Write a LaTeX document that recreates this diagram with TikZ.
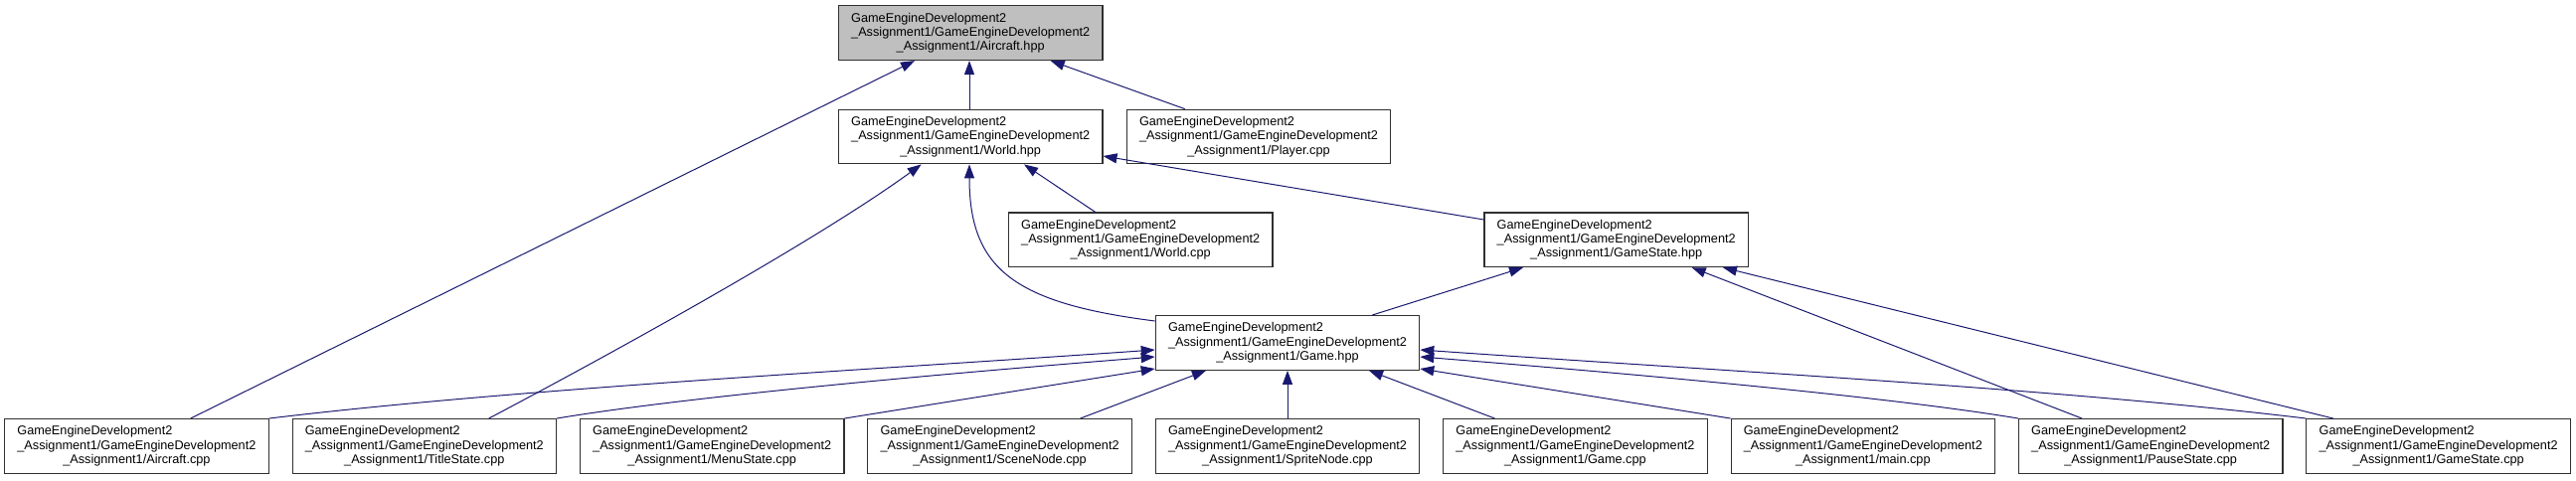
\documentclass[tikz,border=0pt]{standalone}
\usepackage{fontspec}
\setmainfont{Liberation Sans}
\usetikzlibrary{arrows.meta,calc}
\definecolor{edgeblue}{HTML}{191970}
\definecolor{mainfill}{HTML}{BFBFBF}
\definecolor{boxline}{HTML}{303030}
\newcommand{\dxlab}[1]{\makebox[240pt][l]{GameEngineDevelopment2}\\\makebox[240pt][l]{\_Assignment1/GameEngineDevelopment2}\\\_Assignment1/#1}
\begin{document}
\begin{tikzpicture}[x=1pt,y=-1pt,
  filebox/.style={draw=boxline, line width=1.1pt, fill=white, rectangle,
    minimum width=265.5pt, minimum height=54.7pt, inner sep=0pt, align=center,
    font=\fontsize{12.7pt}{14.3pt}\selectfont},
  mainbox/.style={filebox, fill=mainfill},
  dep/.style={draw=edgeblue, line width=1pt, {Triangle[length=14pt,width=10pt]}-}]
\useasboundingbox[fill=white] (0,0) rectangle (2591,483);

% nodes
\node[mainbox] (AHPP) at (976.2,33.2) {\dxlab{Aircraft.hpp}};
\node[filebox] (WHPP) at (976.2,137.5) {\dxlab{World.hpp}};
\node[filebox] (PCPP) at (1266,137.5) {\dxlab{Player.cpp}};
\node[filebox] (WCPP) at (1147.2,241.3) {\dxlab{World.cpp}};
\node[filebox] (GSHPP) at (1625.7,241.3) {\dxlab{GameState.hpp}};
\node[filebox] (GHPP) at (1295,345) {\dxlab{Game.hpp}};

\node[filebox] (ACPP) at (137.4,448.9) {\dxlab{Aircraft.cpp}};
\node[filebox] (TSCPP) at (426.8,448.9) {\dxlab{TitleState.cpp}};
\node[filebox] (MSCPP) at (716.2,448.9) {\dxlab{MenuState.cpp}};
\node[filebox] (SNCPP) at (1005.6,448.9) {\dxlab{SceneNode.cpp}};
\node[filebox] (SPCPP) at (1295,448.9) {\dxlab{SpriteNode.cpp}};
\node[filebox] (GCPP) at (1584.4,448.9) {\dxlab{Game.cpp}};
\node[filebox] (MCPP) at (1873.8,448.9) {\dxlab{main.cpp}};
\node[filebox] (PSCPP) at (2163.2,448.9) {\dxlab{PauseState.cpp}};
\node[filebox] (GSCPP) at (2452.6,448.9) {\dxlab{GameState.cpp}};

% dependencies of Aircraft.hpp
\draw[dep] ([xshift=-56.2pt]AHPP.south) -- ([xshift=54.3pt]ACPP.north);
\draw[dep] ([xshift=-1.2pt]AHPP.south) -- ([xshift=-1.2pt]WHPP.north);
\draw[dep] ([xshift=80.5pt]AHPP.south) -- ([xshift=-74.3pt]PCPP.north);

% dependencies of World.hpp
\draw[dep] ([xshift=53.8pt]WHPP.south) -- ([xshift=-45.5pt]WCPP.north);
\draw[dep] ([xshift=-49.5pt]WHPP.south) .. controls +(-110,80) and +(110,-58) .. ([xshift=64.9pt]TSCPP.north);
\draw[dep] ([xshift=-1.2pt]WHPP.south) .. controls +(0,105) and +(-142,-18) .. ([yshift=22pt]GHPP.west);
\draw[dep] ([yshift=-19.5pt]WHPP.east) -- ([yshift=20.3pt]GSHPP.west);

% dependencies of GameState.hpp
\draw[dep] ([xshift=-93.7pt]GSHPP.south) -- ([xshift=85pt]GHPP.north);
\draw[dep] ([xshift=76pt]GSHPP.south) -- ([xshift=-69.2pt]PSCPP.north);
\draw[dep] ([xshift=107.3pt]GSHPP.south) -- ([xshift=-105.9pt]GSCPP.north);

% dependencies of Game.hpp
\draw[dep] ([yshift=-7pt]GHPP.west) .. controls +(-300,21) and +(250,-30) .. (ACPP.north east);
\draw[dep] ([yshift=-14pt]GHPP.west) .. controls +(-150,12) and +(150,-25) .. (TSCPP.north east);
\draw[dep] ([yshift=-26pt]GHPP.west) -- (MSCPP.north east);
\draw[dep] ([xshift=-82pt]GHPP.south) -- ([xshift=81pt]SNCPP.north);
\draw[dep] (GHPP.south) -- (SPCPP.north);
\draw[dep] ([xshift=82pt]GHPP.south) -- ([xshift=-81pt]GCPP.north);
\draw[dep] ([yshift=-26pt]GHPP.east) -- (MCPP.north west);
\draw[dep] ([yshift=-14pt]GHPP.east) .. controls +(150,12) and +(-150,-25) .. (PSCPP.north west);
\draw[dep] ([yshift=-7pt]GHPP.east) .. controls +(300,21) and +(-250,-30) .. (GSCPP.north west);
\end{tikzpicture}
\end{document}
